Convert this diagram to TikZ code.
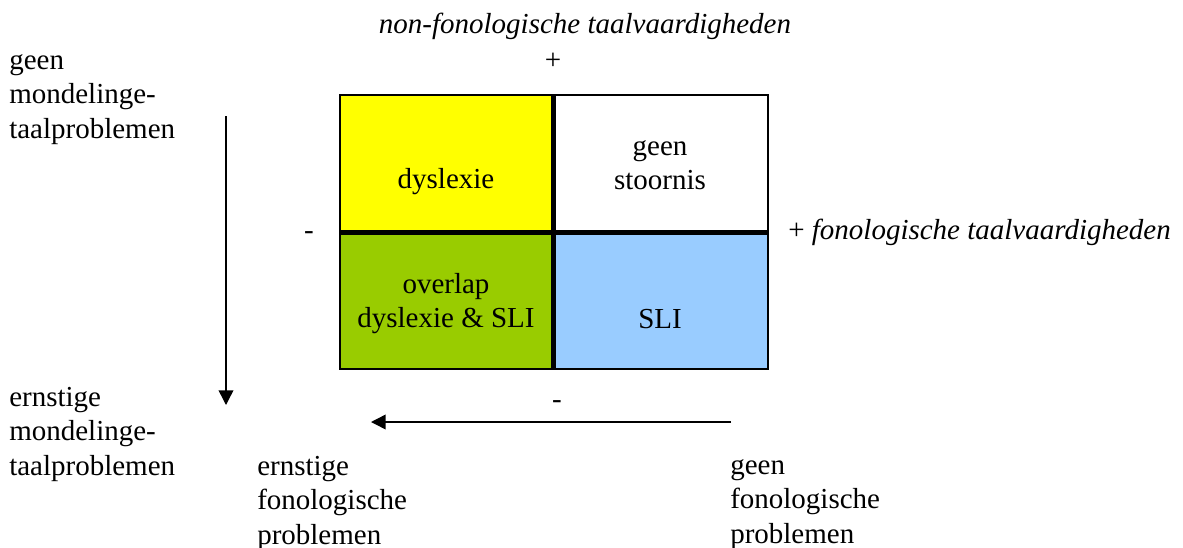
\documentclass[tikz,border=0pt]{standalone}
\usepackage{fontspec}
\setmainfont{Liberation Serif}
\usetikzlibrary{arrows.meta}
\definecolor{cellyellow}{HTML}{FFFF00}
\definecolor{cellgreen}{HTML}{99CC00}
\definecolor{cellblue}{HTML}{99CCFF}
\newcommand{\linesL}[1]{\begin{tabular}[t]{@{}l@{}}#1\end{tabular}}
\newcommand{\linesC}[1]{\begin{tabular}[t]{@{}c@{}}#1\end{tabular}}
\tikzset{
  lbl/.style={inner sep=0pt, font=\fontsize{21.75pt}{25.9pt}\selectfont},
  lblW/.style={lbl, anchor=base west},
  lblC/.style={lbl, anchor=base},
  frame/.style={line width=1.5pt},
  divider/.style={line width=3.75pt},
  axis/.style={line width=1.1pt, -{Triangle[length=11pt,width=11pt]}},
}
\begin{document}
\begin{tikzpicture}[x=0.75pt,y=-0.75pt]
\useasboundingbox (0,0) rectangle (1183,547);
% cells
\fill[cellyellow] (340,95) rectangle (553,232);
\fill[white] (553,95) rectangle (768,232);
\fill[cellgreen] (340,232) rectangle (553,369);
\fill[cellblue] (553,232) rectangle (768,369);
\draw[divider] (553,95) -- (553,369);
\draw[divider] (340,232) -- (768,232);
\draw[frame] (340,95) rectangle (768,369);
% cell texts
\node[lblC] (dys) at (446,188) {dyslexie};
\node[lblC] (geen) at (660,155) {\linesC{geen\\stoornis}};
\node[lblC] (overlap) at (446,293) {\linesC{overlap\\dyslexie \& SLI}};
\node[lblC] (sli) at (660,328) {SLI};
% axis labels
\node[lblC] (title) at (585,33) {\itshape non-fonologische taalvaardigheden};
\node[lblC] (plustop) at (553,69) {+};
\node[lblC] (minleft) at (309,239) {-};
\node[lblW] (right) at (788,239) {+ \itshape fonologische taalvaardigheden};
\node[lblC] (minbot) at (557,408) {-};
\node[lblW] (tl) at (9,69) {\linesL{geen\\mondelinge-\\taalproblemen}};
\node[lblW] (bl) at (9,406) {\linesL{ernstige\\mondelinge-\\taalproblemen}};
\node[lblW] (bfl) at (257,475) {\linesL{ernstige\\fonologische\\problemen}};
\node[lblW] (bfr) at (730,474) {\linesL{geen\\fonologische\\problemen}};
% arrows
\coordinate (vs) at (226,116);
\coordinate (ve) at (226,405);
\coordinate (hs) at (731,422);
\coordinate (he) at (371,422);
\draw[axis] (vs) -- (ve);
\draw[axis] (hs) -- (he);
\end{tikzpicture}
\end{document}
